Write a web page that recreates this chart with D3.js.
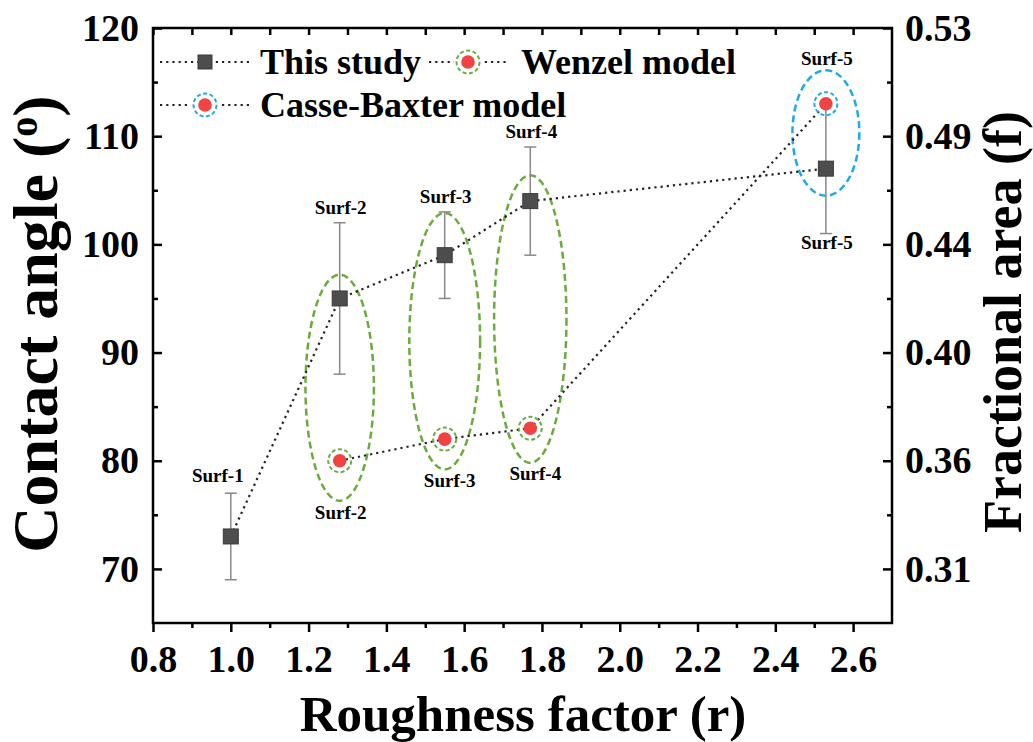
<!DOCTYPE html>
<meta charset="utf-8">
<style>

body {
  margin: 0;
  background: #fff;
}

text {
  font-family: "Liberation Serif", "Times New Roman", serif;
  font-weight: bold;
  fill: #000;
}

.axis line {
  stroke: #000;
  stroke-width: 2.5px;
}

.frame {
  fill: none;
  stroke: #000;
  stroke-width: 2.5px;
}

.tick text {
  font-family: "Liberation Serif", "Times New Roman", serif;
  font-weight: bold;
  font-size: 38px;
}

.dotline {
  fill: none;
  stroke: #222;
  stroke-width: 2.2px;
  stroke-dasharray: 2.2,4;
}

.errbar {
  stroke: #888;
  stroke-width: 1.5px;
}

.oval {
  fill: none;
  stroke-width: 2.5px;
  stroke-dasharray: 7,4;
}

.ring {
  fill: none;
  stroke-width: 2px;
  stroke-dasharray: 4,2.5;
}

.surf-label {
  font-size: 19px;
}

</style>
<svg width="1033" height="742"></svg>
<script src="https://cdn.jsdelivr.net/npm/d3@7"></script>
<script>

// measured contact angle
var surfNames = ["Surf-1", "Surf-2", "Surf-3", "Surf-4", "Surf-5"];
var roughness = [1.0, 1.28, 1.55, 1.77, 2.53];
var contactAngle = [73, 95, 99, 104, 107];
var errLow = [69, 88, 95, 99, 101];
var errHigh = [77, 102, 103, 109, 113];

// model predictions (Wenzel for surf 2-4, Cassie-Baxter for surf 5)
var modelR = [1.28, 1.55, 1.77, 2.53];
var modelAngle = [80, 82, 83, 113];
var modelType = ["wenzel", "wenzel", "wenzel", "cassie"];

// grouping ovals (centre r, top / bottom angle, half width in r)
var ovalR = [1.28, 1.55, 1.77, 2.53];
var ovalTop = [97.2, 102.9, 106.4, 116.1];
var ovalBottom = [76.3, 79.2, 79.8, 104.5];
var ovalHalfR = [0.088, 0.091, 0.093, 0.086];

// where the surf labels sit (angle units)
var labelTopAt = [78.0, 102.8, 103.8, 109.8, 116.6];
var labelBottomAt = [null, 74.6, 77.6, 78.2, 99.6];

var xTicks = [0.8, 1.0, 1.2, 1.4, 1.6, 1.8, 2.0, 2.2, 2.4, 2.6];
var xMinor = [0.9, 1.1, 1.3, 1.5, 1.7, 1.9, 2.1, 2.3, 2.5];
var yTicks = [70, 80, 90, 100, 110, 120];
var yMinor = [75, 85, 95, 105, 115];
var fracTicks = [0.31, 0.36, 0.40, 0.44, 0.49, 0.53];

var colors = {
  square: "#4d4d4d",
  red: "#f04343",
  wenzel: "#6aac3c",
  cassie: "#1eaae8"
};

var svg = d3.select("svg"),
    mLeft = 153, mRight = 892, mTop = 28, mBottom = 623;

var x = d3.scaleLinear().domain([0.8, 2.7]).range([mLeft, mRight]);
var y = d3.scaleLinear().domain([65, 120]).range([mBottom, mTop]);
// right axis labels line up with the left ticks
var yR = d3.scaleLinear().domain(fracTicks).range(yTicks.map(function(v) { return y(v); }));

function styleAxis(g) {
  g.attr("font-size", null).attr("font-family", null);
  g.select(".domain").remove();
}

// axes
svg.append("g").attr("class", "axis")
    .attr("transform", "translate(0," + mBottom + ")")
    .call(d3.axisBottom(x).tickValues(xTicks).tickSize(9).tickPadding(13)
      .tickFormat(d3.format(".1f")))
    .call(styleAxis);
svg.append("g").attr("class", "axis")
    .attr("transform", "translate(0," + mBottom + ")")
    .call(d3.axisBottom(x).tickValues(xMinor).tickSize(5).tickFormat(""))
    .call(styleAxis);
svg.append("g").attr("class", "axis")
    .attr("transform", "translate(0," + mTop + ")")
    .call(d3.axisTop(x).tickValues(xTicks.concat(xMinor)).tickSize(-7).tickFormat(""))
    .call(styleAxis);

svg.append("g").attr("class", "axis")
    .attr("transform", "translate(" + mLeft + ",0)")
    .call(d3.axisLeft(y).tickValues(yTicks).tickSize(-9).tickPadding(14))
    .call(styleAxis);
svg.append("g").attr("class", "axis")
    .attr("transform", "translate(" + mLeft + ",0)")
    .call(d3.axisLeft(y).tickValues(yMinor).tickSize(-5).tickFormat(""))
    .call(styleAxis);

svg.append("g").attr("class", "axis")
    .attr("transform", "translate(" + mRight + ",0)")
    .call(d3.axisRight(yR).tickValues(fracTicks).tickSize(-9).tickPadding(13)
      .tickFormat(d3.format(".2f")))
    .call(styleAxis);
svg.append("g").attr("class", "axis")
    .attr("transform", "translate(" + mRight + ",0)")
    .call(d3.axisRight(y).tickValues(yMinor).tickSize(-5).tickFormat(""))
    .call(styleAxis);

svg.append("rect").attr("class", "frame")
    .attr("x", mLeft).attr("y", mTop)
    .attr("width", mRight - mLeft).attr("height", mBottom - mTop);

// ovals
svg.selectAll(".oval")
    .data(ovalR)
  .enter().append("ellipse")
    .attr("class", "oval")
    .attr("cx", function(d) { return x(d); })
    .attr("cy", function(d, i) { return (y(ovalTop[i]) + y(ovalBottom[i])) / 2; })
    .attr("rx", function(d, i) { return x(d + ovalHalfR[i]) - x(d); })
    .attr("ry", function(d, i) { return (y(ovalBottom[i]) - y(ovalTop[i])) / 2; })
    .style("stroke", function(d, i) { return colors[modelType[i]]; });

// error bars
var eb = svg.selectAll(".eb")
    .data(roughness)
  .enter().append("g")
    .attr("class", "eb");
eb.append("line").attr("class", "errbar")
    .attr("x1", function(d) { return x(d); }).attr("x2", function(d) { return x(d); })
    .attr("y1", function(d, i) { return y(errLow[i]); })
    .attr("y2", function(d, i) { return y(errHigh[i]); });
eb.append("line").attr("class", "errbar")
    .attr("x1", function(d) { return x(d) - 6; }).attr("x2", function(d) { return x(d) + 6; })
    .attr("y1", function(d, i) { return y(errLow[i]); })
    .attr("y2", function(d, i) { return y(errLow[i]); });
eb.append("line").attr("class", "errbar")
    .attr("x1", function(d) { return x(d) - 6; }).attr("x2", function(d) { return x(d) + 6; })
    .attr("y1", function(d, i) { return y(errHigh[i]); })
    .attr("y2", function(d, i) { return y(errHigh[i]); });

// dotted connecting lines
var line = d3.line()
    .x(function(d) { return x(d[0]); })
    .y(function(d) { return y(d[1]); });

svg.append("path").attr("class", "dotline")
    .attr("d", line(roughness.map(function(r, i) { return [r, contactAngle[i]]; })));
svg.append("path").attr("class", "dotline")
    .attr("d", line(modelR.map(function(r, i) { return [r, modelAngle[i]]; })));

// measured points
svg.selectAll(".sq")
    .data(roughness)
  .enter().append("rect")
    .attr("class", "sq")
    .attr("x", function(d) { return x(d) - 7.5; })
    .attr("y", function(d, i) { return y(contactAngle[i]) - 7.5; })
    .attr("width", 15).attr("height", 15)
    .style("fill", colors.square)
    .style("stroke", "#3a3a3a")
    .style("stroke-width", 1);

// model points
var mp = svg.selectAll(".mp")
    .data(modelR)
  .enter().append("g")
    .attr("class", "mp")
    .attr("transform", function(d, i) { return "translate(" + x(d) + "," + y(modelAngle[i]) + ")"; });
mp.append("circle").attr("class", "ring").attr("r", 11.5)
    .style("stroke", function(d, i) { return colors[modelType[i]]; });
mp.append("circle").attr("r", 6.8).style("fill", colors.red);

// surf labels
svg.selectAll(".lt")
    .data(surfNames)
  .enter().append("text")
    .attr("class", "surf-label")
    .attr("text-anchor", "middle")
    .attr("x", function(d, i) { return x(roughness[i]) + (i === 0 ? -13 : 1); })
    .attr("y", function(d, i) { return y(labelTopAt[i]); })
    .text(function(d) { return d; });

svg.selectAll(".lb")
    .data(surfNames.filter(function(d, i) { return labelBottomAt[i] !== null; }))
  .enter().append("text")
    .attr("class", "surf-label")
    .attr("text-anchor", "middle")
    .attr("x", function(d) { var i = surfNames.indexOf(d); return x(roughness[i]) + (i === 2 || i === 3 ? 5 : 1); })
    .attr("y", function(d) { return y(labelBottomAt[surfNames.indexOf(d)]); })
    .text(function(d) { return d; });

// legend
var legend = svg.append("g").attr("class", "legend");

function legendKey(cx, cy, kind, half) {
  legend.append("line").attr("class", "dotline")
      .attr("x1", cx - half).attr("x2", cx + half)
      .attr("y1", cy).attr("y2", cy);
  if (kind === "square") {
    legend.append("rect")
        .attr("x", cx - 7).attr("y", cy - 7).attr("width", 14).attr("height", 14)
        .style("fill", colors.square).style("stroke", "#3a3a3a");
  } else {
    legend.append("circle").attr("cx", cx).attr("cy", cy).attr("r", 14)
        .style("fill", "#fff");
    legend.append("circle").attr("class", "ring").attr("cx", cx).attr("cy", cy).attr("r", 11.5)
        .style("stroke", colors[kind]);
    legend.append("circle").attr("cx", cx).attr("cy", cy).attr("r", 6.8)
        .style("fill", colors.red);
  }
}

legendKey(205, 62, "square", 45);
legend.append("text").attr("x", 260).attr("y", 74).style("font-size", "36px").text("This study");
legendKey(468, 62, "wenzel", 39);
legend.append("text").attr("x", 521).attr("y", 74).style("font-size", "36px").text("Wenzel model");
legendKey(205, 105, "cassie", 45);
legend.append("text").attr("x", 260).attr("y", 117).style("font-size", "36px").text("Casse-Baxter model");

// axis titles
svg.append("text")
    .attr("transform", "translate(523,731)")
    .attr("text-anchor", "middle")
    .style("font-size", "51px")
    .text("Roughness factor (r)");

var yt = svg.append("text")
    .attr("transform", "translate(57,324) rotate(-90)")
    .attr("text-anchor", "middle")
    .style("font-size", "64px");
yt.append("tspan").text("Contact angle (");
yt.append("tspan").attr("dy", -20).style("font-size", "40px").text("o");
yt.append("tspan").attr("dy", 20).text(")");

svg.append("text")
    .attr("transform", "translate(1021,322) rotate(-90)")
    .attr("text-anchor", "middle")
    .style("font-size", "54px")
    .text("Fractional area (f)");

</script>
